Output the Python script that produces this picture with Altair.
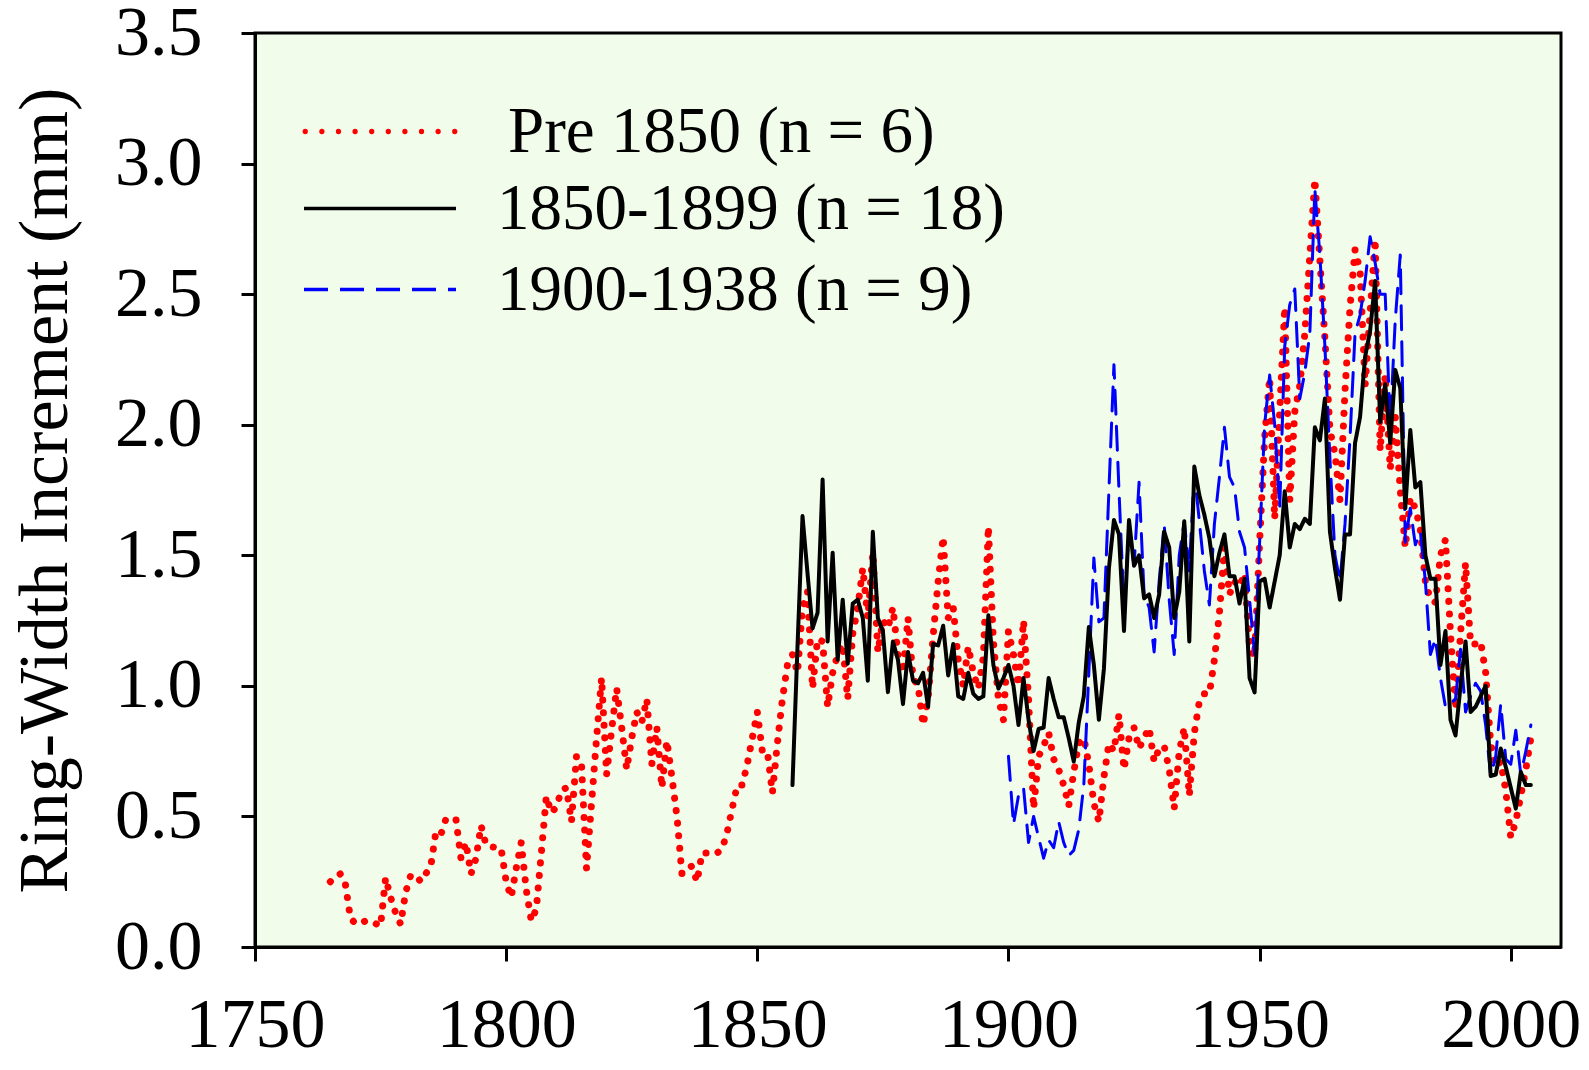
import altair as alt
import pandas as pd

RED_START = 1765
BLACK_START = 1857
BLUE_START = 1900

red = [
    0.25, 0.27, 0.28, 0.24, 0.11, 0.09, 0.09, 0.10, 0.10, 0.09,
    0.08, 0.265, 0.19, 0.13, 0.087, 0.21, 0.275, 0.275, 0.25, 0.28,
    0.31, 0.44, 0.43, 0.49, 0.49, 0.49, 0.34, 0.40, 0.28, 0.34,
    0.465, 0.39, 0.385, 0.38, 0.377, 0.25, 0.19, 0.30, 0.40, 0.22,
    0.10, 0.145, 0.36, 0.577, 0.514, 0.536, 0.60, 0.61, 0.48, 0.73,
    0.70, 0.30, 0.55, 0.80, 1.03, 0.66, 0.83, 0.99, 0.84, 0.68,
    0.80, 0.90, 0.86, 0.95, 0.70, 0.84, 0.61, 0.79, 0.65, 0.50,
    0.28, 0.30, 0.31, 0.25, 0.36, 0.36, 0.355, 0.36, 0.375, 0.44,
    0.53, 0.62, 0.62, 0.70, 0.80, 0.90, 0.75, 0.75, 0.59, 0.78,
    0.95, 1.08, 1.12, 1.05, 1.30, 1.36, 0.99, 1.18, 1.17, 0.92,
    1.05, 1.12, 1.16, 0.95, 1.20, 1.30, 1.45, 1.26, 1.51, 1.13,
    1.25, 1.22, 1.30, 1.12, 1.05, 1.26, 1.03, 1.00, 0.85, 0.95,
    1.19, 1.40, 1.57, 1.26, 1.30, 1.10, 1.00, 1.15, 1.05, 0.99,
    1.11, 1.61, 1.17, 0.95, 0.87, 1.21, 1.12, 1.00, 1.25, 0.95,
    0.53, 0.73, 0.77, 0.82, 0.72, 0.68, 0.62, 0.54, 0.67, 0.78,
    0.80, 0.70, 0.55, 0.48, 0.65, 0.78, 0.75, 0.89, 0.68, 0.80,
    0.84, 0.76, 0.80, 0.84, 0.71, 0.76, 0.77, 0.68, 0.53, 0.75,
    0.84, 0.58, 0.82, 0.94, 0.97, 0.97, 1.10, 1.28, 1.53, 1.35,
    1.40, 1.38, 1.43, 1.15, 1.11, 1.55, 1.95, 2.18, 1.64, 2.05,
    2.45, 1.71, 2.05, 2.15, 2.35, 2.65, 2.94, 2.63, 2.33, 1.98,
    1.89, 1.71, 2.13, 2.45, 2.67, 2.59, 2.15, 2.43, 2.71, 1.90,
    2.19, 1.83, 2.03, 1.75, 1.53, 1.72, 1.68, 1.60, 1.40, 1.33,
    1.32, 1.50, 1.56, 1.20, 0.91, 1.20, 1.47, 1.16, 1.16, 1.17,
    1.05, 0.78, 0.69, 0.71, 0.60, 0.42, 0.48, 0.58, 0.68, 0.80,
]

black = [
    0.62, 1.15, 1.65, 1.43, 1.22, 1.28, 1.79, 1.17, 1.51, 1.10,
    1.33, 1.085, 1.315, 1.33, 1.26, 1.02, 1.59, 1.26, 1.21, 0.976,
    1.17, 1.10, 0.93, 1.13, 1.02, 1.01, 1.05, 0.92, 1.16, 1.155,
    1.23, 1.04, 1.16, 0.96, 0.95, 1.05, 0.97, 0.95, 0.96, 1.27,
    1.08, 0.99, 1.03, 1.08, 1.00, 0.85, 1.03, 0.87, 0.75, 0.835,
    0.84, 1.03, 0.95, 0.88, 0.88, 0.80, 0.71, 0.86, 0.96, 1.225,
    1.08, 0.87, 1.065, 1.45, 1.635, 1.58, 1.21, 1.635, 1.46, 1.50,
    1.335, 1.35, 1.26, 1.35, 1.59, 1.53, 1.26, 1.36, 1.63, 1.17,
    1.84, 1.73, 1.655, 1.565, 1.42, 1.51, 1.58, 1.42, 1.42, 1.315,
    1.41, 1.03, 0.975, 1.40, 1.41, 1.30, 1.40, 1.50, 1.745, 1.53,
    1.62, 1.60, 1.64, 1.62, 1.99, 1.94, 2.10, 1.59, 1.45, 1.33,
    1.58, 1.58, 1.93, 2.03, 2.26, 2.36, 2.55, 2.01, 2.155, 1.93,
    2.21, 2.14, 1.68, 1.98, 1.76, 1.78, 1.50, 1.41, 1.41, 1.08,
    1.21, 0.87, 0.81, 1.00, 1.17, 0.90, 0.92, 0.96, 1.00, 0.655,
    0.66, 0.76, 0.69, 0.61, 0.53, 0.67, 0.62, 0.62,
]

blue = [
    0.73, 0.47, 0.58, 0.61, 0.40, 0.50, 0.42, 0.34, 0.41, 0.38,
    0.48, 0.40, 0.35, 0.37, 0.45, 0.62, 1.05, 1.49, 1.245, 1.26,
    1.75, 2.23, 1.75, 1.30, 1.60, 1.46, 1.78, 1.35, 1.30, 1.13,
    1.40, 1.62, 1.33, 1.12, 1.50, 1.63, 1.44, 1.82, 1.63, 1.44,
    1.31, 1.62, 1.80, 1.99, 1.80, 1.76, 1.59, 1.53, 1.33, 1.12,
    1.55, 2.00, 2.19, 2.00, 1.68, 2.30, 2.46, 2.52, 2.10, 2.20,
    2.35, 2.90, 2.65, 2.30, 1.87, 1.50, 1.40, 1.62, 1.95, 2.35,
    2.42, 2.55, 2.72, 2.62, 2.50, 2.50, 2.00, 2.40, 2.65, 1.55,
    1.68, 1.54, 1.59, 1.40, 1.12, 1.18, 1.03, 0.92, 0.93, 0.95,
    1.14, 0.90, 0.96, 1.01, 0.98, 0.85, 0.655, 0.73, 0.93, 0.72,
    0.70, 0.83, 0.66, 0.75, 0.85,
]

SERIES = ["Pre 1850 (n = 6)", "1850-1899 (n = 18)", "1900-1938 (n = 9)"]
COLORS = ["#ff0000", "#000000", "#0000ff"]
DASHES = [[0.1, 12.5], [1, 0], [24, 12]]
WIDTHS = [7, 4, 3]
X_TICKS = [1750, 1800, 1850, 1900, 1950, 2000]
Y_TICKS = [0.0, 0.5, 1.0, 1.5, 2.0, 2.5, 3.0, 3.5]
FONT = "Liberation Serif"

# legend symbol geometry (symbol units: -1..1 spans sqrt(size) pixels)
SYM_SIZE = 2567
LINE_PATH = "M-3,0H3"


def dots_path(n=10, half=2.95, r=0.045):
    parts = []
    for i in range(n):
        cx = -half + 2 * half * i / (n - 1)
        parts.append(
            "M{a:.4f},0A{r},{r},0,1,0,{b:.4f},0A{r},{r},0,1,0,{a:.4f},0Z".format(
                a=cx - r, b=cx + r, r=r))
    return "".join(parts)


def frame(name, start, vals):
    return pd.DataFrame({"series": name,
                         "year": list(range(start, start + len(vals))),
                         "value": vals})


df = pd.concat([frame(SERIES[0], RED_START, red),
                frame(SERIES[1], BLACK_START, black),
                frame(SERIES[2], BLUE_START, blue)], ignore_index=True)

x_enc = alt.X("year:Q",
              scale=alt.Scale(domain=[1750, 2010], nice=False, zero=False),
              axis=alt.Axis(values=X_TICKS, format="d", title=None, grid=False,
                            labelFont=FONT, labelFontSize=70, labelColor="black",
                            labelPadding=30, tickSize=14, tickWidth=3,
                            tickColor="black", domainColor="black", domainWidth=3,
                            labelFlush=False, labelOverlap=False))
y_enc = alt.Y("value:Q",
              scale=alt.Scale(domain=[0, 3.5], nice=False),
              axis=alt.Axis(values=Y_TICKS, format=".1f",
                            title="Ring-Width Increment (mm)", grid=False,
                            labelFont=FONT, labelFontSize=70, labelColor="black",
                            labelPadding=39, tickSize=14, tickWidth=3,
                            tickColor="black", domainColor="black", domainWidth=3,
                            labelFlush=False, labelOverlap=False,
                            titleFont=FONT, titleFontSize=70,
                            titleFontWeight="normal", titleColor="black",
                            titleAngle=270, titleBaseline="alphabetic",
                            titleAlign="center", titleX=-189, titleY=457))

legend_red = alt.Legend(
    title=None, orient="none", legendX=92.5, legendY=66,
    symbolType=dots_path(), symbolSize=SYM_SIZE, symbolStrokeWidth=3,
    symbolStrokeColor="#ff0000", symbolFillColor="#ff0000",
    labelFont=FONT, labelFontSize=65, labelColor="black",
    labelOffset=95.5, padding=0, labelLimit=1000,
)
legend_lines = alt.Legend(
    title=None, orient="none", legendX=92.5, legendY=143,
    symbolType=LINE_PATH, symbolSize=SYM_SIZE, symbolStrokeWidth=3.5,
    labelFont=FONT, labelFontSize=65, labelColor="black",
    labelOffset=84.5, rowPadding=15, padding=0, labelLimit=1000,
)

color_enc = alt.Color("series:N",
                      scale=alt.Scale(domain=SERIES[1:], range=COLORS[1:]),
                      legend=legend_lines)
dash_enc = alt.StrokeDash("series:N",
                          scale=alt.Scale(domain=SERIES[1:], range=DASHES[1:]),
                          legend=legend_lines)

red_layer = (
    alt.Chart(df)
    .transform_filter(alt.datum.series == SERIES[0])
    .mark_line(color=COLORS[0], strokeDash=DASHES[0], strokeWidth=WIDTHS[0],
               strokeCap="round", strokeJoin="round")
    .encode(x=x_enc, y=y_enc,
            opacity=alt.Opacity("series:N",
                                scale=alt.Scale(domain=[SERIES[0]], range=[1, 1]),
                                legend=legend_red))
)

line_layers = []
for idx in [2, 1]:
    line_layers.append(
        alt.Chart(df)
        .transform_filter(alt.datum.series == SERIES[idx])
        .mark_line(strokeWidth=WIDTHS[idx], strokeCap="round", strokeJoin="round")
        .encode(x=x_enc, y=y_enc, color=color_enc, strokeDash=dash_enc)
    )

chart = (
    alt.layer(red_layer, *line_layers)
    .properties(width=1306, height=914,
                padding={"left": 247, "top": 25, "right": 20, "bottom": 115},
                autosize=alt.AutoSizeParams(type="none"))
    .configure_view(fill="#F1FCEA", stroke="black", strokeWidth=3)
)

chart.save("out.html", embed_options={"renderer": "svg", "actions": False})
